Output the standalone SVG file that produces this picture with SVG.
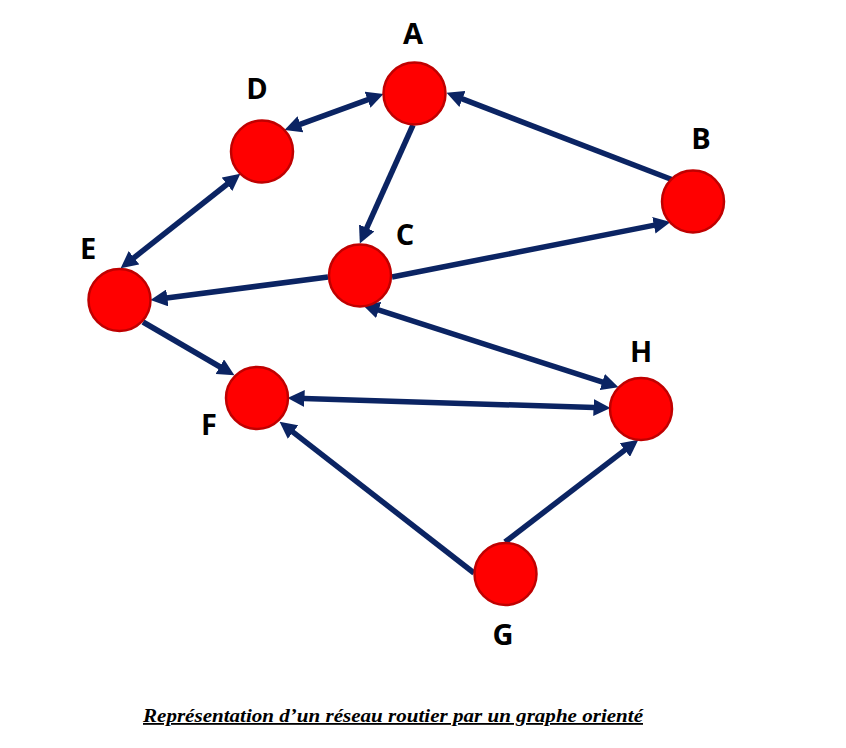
<svg xmlns="http://www.w3.org/2000/svg" width="846" height="748" viewBox="0 0 846 748">
<style>
.node{fill:#FF0000;stroke:#C00000;stroke-width:2.5}
.lbl{font-family:"Open Sans","DejaVu Sans",sans-serif;font-weight:700;font-size:29px;fill:#000;text-anchor:middle}
.edge{stroke:#0B2463;stroke-width:5.5;fill:none}
.end{marker-end:url(#ah)}
.both{marker-start:url(#ah);marker-end:url(#ah)}
.cap{font-family:"Liberation Serif","Times New Roman",serif;font-weight:700;font-style:italic;font-size:18px;text-decoration:underline;fill:#000}
</style>
<defs>
<marker id="ah" viewBox="0 0 16 16" markerWidth="17" markerHeight="17" refX="8" refY="8" markerUnits="userSpaceOnUse" orient="auto-start-reverse">
<path d="M0,0 L16,8 L0,16 z" fill="#0B2463"/>
</marker>
</defs>
<rect width="846" height="748" fill="#fff"/>
<g id="connectors">
<line class="edge both" x1="292.5" y1="127.2" x2="375.5" y2="96.8"/>
<line class="edge end" x1="673" y1="180" x2="454.5" y2="95.9"/>
<line class="edge end" x1="413" y1="125" x2="363.3" y2="235.7"/>
<line class="edge end" x1="392" y1="277" x2="662.2" y2="223.6"/>
<line class="edge end" x1="328" y1="277" x2="158.9" y2="299"/>
<line class="edge both" x1="233.7" y1="179" x2="127.3" y2="263"/>
<line class="edge end" x1="143" y1="322" x2="227.1" y2="371"/>
<line class="edge both" x1="296" y1="398.2" x2="602" y2="407.8"/>
<line class="edge both" x1="370.6" y1="307.4" x2="610.4" y2="384.6"/>
<line class="edge end" x1="474" y1="573" x2="286.3" y2="426.9"/>
<line class="edge end" x1="505" y1="542" x2="631.6" y2="444.9"/>
</g>
<g id="node-A"><circle class="node" cx="414.5" cy="93.5" r="31"/><text class="lbl" x="413" y="44">A</text></g>
<g id="node-D"><circle class="node" cx="262" cy="151.5" r="31"/><text class="lbl" x="257" y="99">D</text></g>
<g id="node-B"><circle class="node" cx="693" cy="201.5" r="31"/><text class="lbl" x="701" y="149">B</text></g>
<g id="node-C"><circle class="node" cx="360" cy="275.5" r="31"/><text class="lbl" x="405" y="245">C</text></g>
<g id="node-E"><circle class="node" cx="119.5" cy="300" r="31"/><text class="lbl" x="88" y="259">E</text></g>
<g id="node-F"><circle class="node" cx="257" cy="398" r="31"/><text class="lbl" x="209" y="435">F</text></g>
<g id="node-H"><circle class="node" cx="641" cy="409" r="31"/><text class="lbl" x="641" y="362">H</text></g>
<g id="node-G"><circle class="node" cx="505.5" cy="574" r="31"/><text class="lbl" x="503" y="645">G</text></g>
<text class="cap" x="143" y="722" textLength="500" lengthAdjust="spacingAndGlyphs">Représentation d’un réseau routier par un graphe orienté</text>
</svg>
